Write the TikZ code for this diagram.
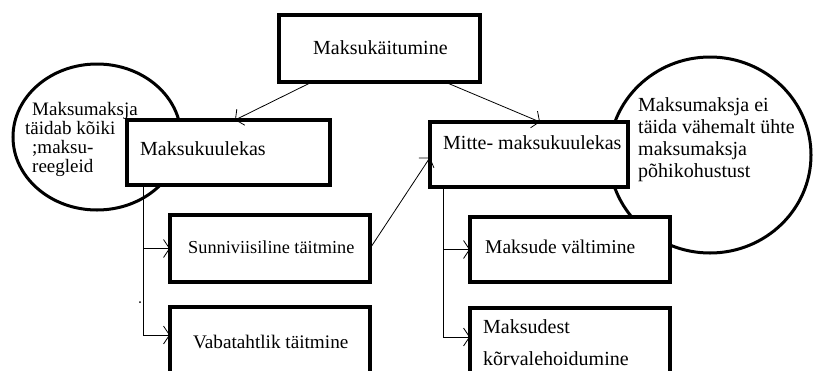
\documentclass[tikz,border=0pt]{standalone}
\usepackage{fontspec}
\setmainfont{Liberation Serif}
\usetikzlibrary{arrows.meta}
\tikzset{
  boxnode/.style={draw, line width=3.5pt, fill=white, rectangle, anchor=north west, inner sep=0pt, outer sep=0pt},
  txt/.style={anchor=base west, inner sep=0pt, font=\fontsize{20}{22}\selectfont, align=left},
  conn/.style={line width=0.8pt, -{Straight Barb[length=6pt,width=18pt,line width=0.8pt]}},
  ring/.style={line width=3pt}
}
\begin{document}
\begin{tikzpicture}[x=1pt,y=-1pt]
\useasboundingbox (0,0) rectangle (813,370);
\clip (0,0) rectangle (813,370);
\fill[white] (0,0) rectangle (813,370);
% ellipses
\draw[ring] (97,137) ellipse [x radius=84, y radius=73];
\draw[ring] (710,155) ellipse [x radius=101, y radius=98];
% boxes
\node[boxnode, minimum width=201pt, minimum height=67pt] (top) at (279,15) {};
\node[boxnode, minimum width=203pt, minimum height=65pt] (kuul) at (127,120) {};
\node[boxnode, minimum width=198pt, minimum height=65pt] (mitte) at (430,122) {};
\node[boxnode, minimum width=200pt, minimum height=67pt] (sunni) at (170,215) {};
\node[boxnode, minimum width=200pt, minimum height=90pt] (vaba) at (170,307) {};
\node[boxnode, minimum width=200pt, minimum height=65pt] (valt) at (470,217) {};
\node[boxnode, minimum width=200pt, minimum height=90pt] (korv) at (470,308) {};
% texts (multi-line nodes: base = last line)
\node[txt] (ttop) at (313,54) {Maksukäitumine};
\node[txt] (tkuul) at (140,155) {Maksukuulekas};
\node[txt] (tmitte) at (443,149) {Mitte- maksukuulekas};
\node[txt, font=\fontsize{18.3}{22}\selectfont] (tsunni) at (188,253) {Sunniviisiline täitmine};
\node[txt, font=\fontsize{19.2}{22}\selectfont] (tvaba) at (193,348) {Vabatahtlik täitmine};
\node[txt, font=\fontsize{19.5}{22}\selectfont] (tvalt) at (485,253) {Maksude vältimine};
\node[txt, font=\fontsize{20}{32}\selectfont] (tkorv) at (483,365) {Maksudest\\kõrvalehoidumine};
\node[txt, font=\fontsize{19}{19}\selectfont] (tleft) at (32,172) {Maksumaksja\\\hspace*{-7pt}täidab kõiki\\;maksu-\\reegleid};
\node[txt] (tright) at (638,177) {Maksumaksja ei\\täida vähemalt ühte\\maksumaksja\\põhikohustust};
% connectors
\draw[conn] ([xshift=33pt]top.south west) -- ([xshift=108pt]kuul.north west);
\draw[conn] ([xshift=166pt]top.south west) -- ([xshift=110pt]mitte.north west);
\draw[conn] (sunni.east) -- ([yshift=-3pt]mitte.west);
\draw[conn] ([xshift=16pt]kuul.south west) |- (sunni.west);
\draw[conn] ([xshift=16pt]kuul.south west) |- ([yshift=-28pt]vaba.north west);
\draw[conn] ([xshift=13pt]mitte.south west) |- (valt.west);
\draw[conn] ([xshift=13pt]mitte.south west) |- ([yshift=-29pt]korv.north west);
% stray dot
\fill (140,302) circle (1pt);
\end{tikzpicture}
\end{document}
